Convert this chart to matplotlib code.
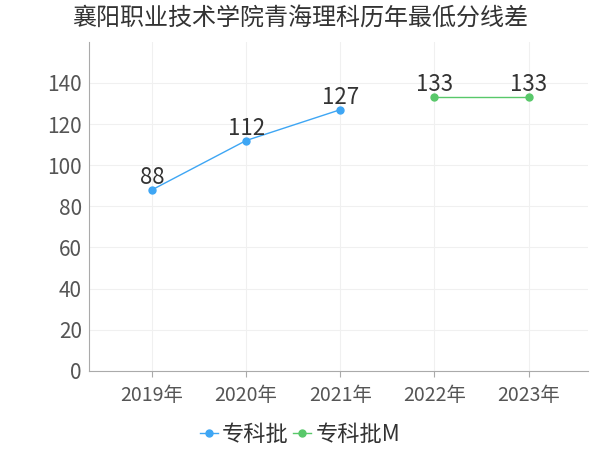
import matplotlib
matplotlib.use("Agg")
import matplotlib.pyplot as plt

plt.rcParams['font.family'] = ['Noto Sans CJK SC', 'DejaVu Sans']

# 数据
years = ["2019年", "2020年", "2021年", "2022年", "2023年"]
zk_x = [0, 1, 2]
zk_vals = [88, 112, 127]
zkm_x = [3, 4]
zkm_vals = [133, 133]
yticks = [0, 20, 40, 60, 80, 100, 120, 140]

blue = '#3ea6f4'
green = '#58c86a'

fig = plt.figure(figsize=(6, 4.5), dpi=100)
ax = fig.add_axes([0.148, 0.176, 0.832, 0.731])

ax.plot(zk_x, zk_vals, color=blue, lw=1, marker='o', ms=5, label='专科批')
ax.plot(zkm_x, zkm_vals, color=green, lw=1, marker='o', ms=5, label='专科批M')

for x, v in zip(zk_x + zkm_x, zk_vals + zkm_vals):
    ax.text(x, v + 0.5, str(v), ha='center', va='bottom', fontsize=16, color='#333333')

ax.set_xlim(-0.67, 4.63)
ax.set_ylim(0, 160)
ax.set_xticks(range(len(years)))
ax.set_xticklabels(years, fontsize=14, color='#555555')
ax.set_yticks(yticks)
ax.set_yticklabels([str(t) for t in yticks], fontsize=15, color='#555555')
ax.tick_params(axis='y', length=0, pad=5)
ax.tick_params(axis='x', length=4, color='#aaaaaa', pad=6)

ax.grid(True, color='#f0f0f0', lw=0.8)
ax.set_axisbelow(True)
for s in ['top', 'right']:
    ax.spines[s].set_visible(False)
ax.spines['left'].set_color('#aaaaaa')
ax.spines['bottom'].set_color('#aaaaaa')

fig.suptitle("襄阳职业技术学院青海理科历年最低分线差", fontsize=17.3, color='#333333', y=0.99)

fig.legend(loc='lower center', bbox_to_anchor=(0.5, -0.035), ncol=2, frameon=False,
           fontsize=16, handlelength=0.8, handletextpad=0.2, columnspacing=0.2,
           labelcolor='#333333')

fig.savefig("out.png", dpi=100)
